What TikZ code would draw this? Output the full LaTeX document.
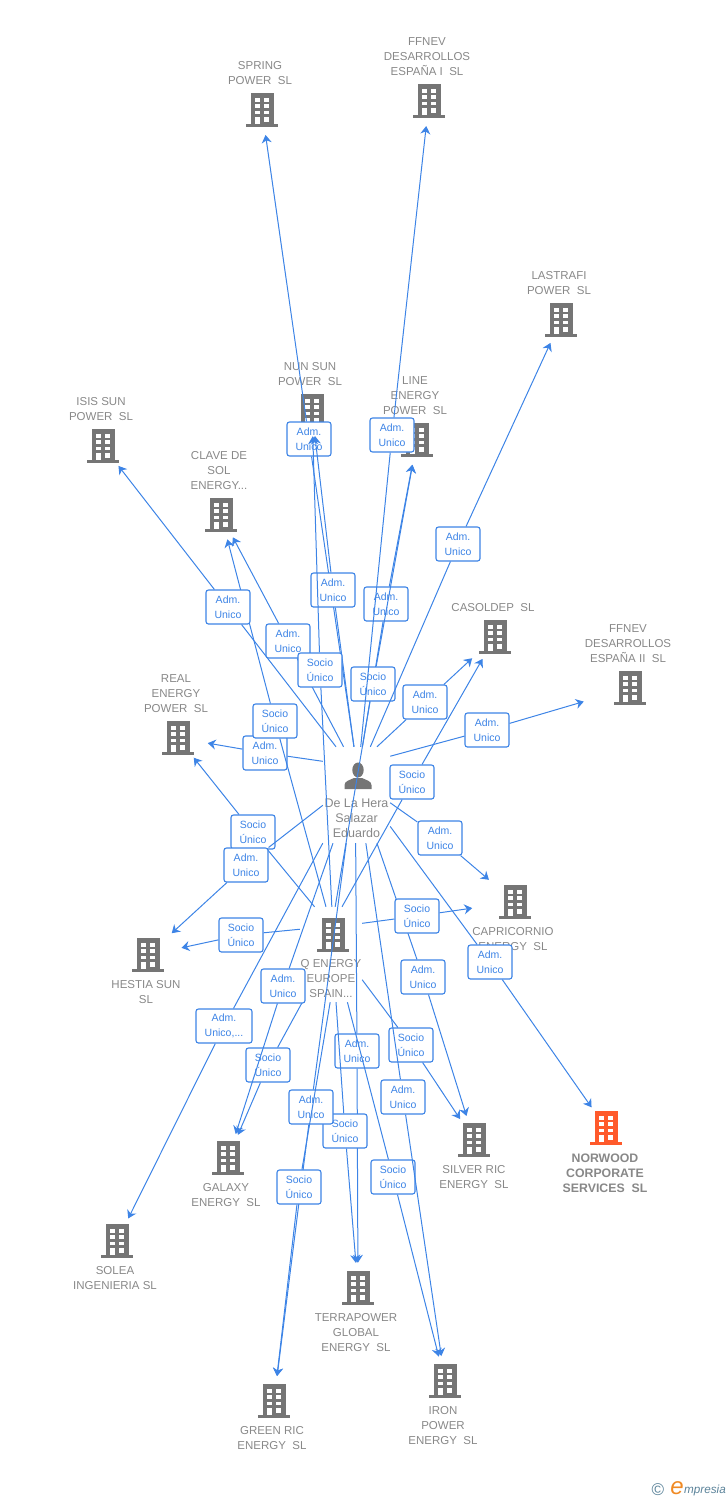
\documentclass[tikz,border=0pt]{standalone}
\usepackage{fontspec}
\setmainfont{Liberation Sans}
\usetikzlibrary{arrows.meta}

\definecolor{bldggray}{HTML}{757575}
\definecolor{bldgred}{HTML}{FF5A2B}
\definecolor{txtgray}{HTML}{888888}
\definecolor{relblue}{HTML}{3D84E6}
\definecolor{logoblue}{HTML}{5A8299}
\definecolor{logoorange}{HTML}{F08A24}

\newcommand{\bldgicon}[1]{
    \begin{scope}[shift={(path picture bounding box.center)}]
        \fill[#1] (-11.5,-16.7) rectangle (11.5,14.5);
        \fill[#1] (-16,14.3) rectangle (16,16.7);
        \fill[white] (-7.3,-12.3) rectangle (-2.3,-8.3);
        \fill[white] (2,-12.3) rectangle (6.7,-8.3);
        \fill[white] (-7.3,-6) rectangle (-2.3,-1.7);
        \fill[white] (2,-6) rectangle (6.7,-1.7);
        \fill[white] (-7.3,0.7) rectangle (-2.3,4.3);
        \fill[white] (2,0.7) rectangle (6.7,4.3);
        \fill[white] (-7.3,7.3) rectangle (-2.3,14.3);
        \fill[white] (2,7.3) rectangle (6.7,11.7);
    \end{scope}
}
\newcommand{\personicon}{
    \begin{scope}[shift={(path picture bounding box.center)}]
        \fill[bldggray] (0,-5) ellipse [x radius=5.7, y radius=7.5];
        \fill[bldggray] (-13.5,14) -- (-13.5,10) .. controls (-13.5,6) and (-8,5) .. (-4,3)
            -- (4,3) .. controls (8,5) and (13.5,6) .. (13.5,10) -- (13.5,14) -- cycle;
    \end{scope}
}

\begin{document}
\begin{tikzpicture}[x=1pt, y=-1pt]
        \tikzstyle{every label}=[text=txtgray, align=center, inner sep=0pt, xshift=-2pt,
            font=\fontsize{11.5}{15}\selectfont]
        \tikzstyle{bldg}[bldggray]=[circle, minimum size=50pt, inner sep=0pt,
            path picture={\bldgicon{#1}}]
        \tikzstyle{lab}=[draw=relblue, fill=white, text=relblue, rounded corners=2.5pt, line width=1.1pt,
            minimum width=44pt, minimum height=34pt, inner sep=0pt, align=center,
            font=\fontsize{10.5}{15}\selectfont]
        \tikzstyle{rel}=[draw=relblue, line width=1pt, -{Stealth[length=8pt, width=10pt]}]

        \useasboundingbox (0,0) rectangle (728,1500);

        \node   (spring)    [bldg, label=90:{SPRING\\POWER~~SL}] at (262,110) {};
        \node   (ffneva)    [bldg, label=90:{FFNEV\\DESARROLLOS\\ESPAÑA I~~SL}] at (429,101) {};
        \node   (lastrafi)  [bldg, label=90:{LASTRAFI\\POWER~~SL}] at (561,320) {};
        \node   (nunsun)    [bldg, label=90:{NUN SUN\\POWER~~SL}] at (312,411) {};
        \node   (line)      [bldg, label=90:{LINE\\ENERGY\\POWER~~SL}] at (417,440) {};
        \node   (isis)      [bldg, label=90:{ISIS SUN\\POWER~~SL}] at (103,446) {};
        \node   (clave)     [bldg, label=90:{CLAVE DE\\SOL\\ENERGY...}] at (221,515) {};
        \node   (casoldep)  [bldg, label=90:{CASOLDEP~~SL}] at (495,637) {};
        \node   (ffnevb)    [bldg, label=90:{FFNEV\\DESARROLLOS\\ESPAÑA II~~SL}] at (630,688) {};
        \node   (real)      [bldg, label=90:{REAL\\ENERGY\\POWER~~SL}] at (178,738) {};
        \node   (capri)     [bldg, label=270:{CAPRICORNIO\\ENERGY~~SL}] at (515,902) {};
        \node   (hestia)    [bldg, label=270:{HESTIA SUN\\SL}] at (148,955) {};
        \node   (silver)    [bldg, label={[xshift=2pt]270:{SILVER RIC\\ENERGY~~SL}}] at (474,1140) {};
        \node   (norwood)   [bldg=bldgred, label={[xshift=1pt, font=\fontsize{12.3}{15}\selectfont\bfseries]270:{NORWOOD\\CORPORATE\\SERVICES~~SL}}] at (606,1128) {};
        \node   (galaxy)    [bldg, label=270:{GALAXY\\ENERGY~~SL}] at (228,1158) {};
        \node   (solea)     [bldg, label=270:{SOLEA\\INGENIERIA SL}] at (117,1241) {};
        \node   (terra)     [bldg, label=270:{TERRAPOWER\\GLOBAL\\ENERGY~~SL}] at (358,1288) {};
        \node   (green)     [bldg, label=270:{GREEN RIC\\ENERGY~~SL}] at (274,1401) {};
        \node   (iron)      [bldg, label=270:{IRON\\POWER\\ENERGY~~SL}] at (445,1381) {};

        \node   (heraicon)  [circle, minimum size=40pt, inner sep=0pt, path picture={\personicon}] at (358,775) {};
        \node   (hera)      [minimum width=67pt, minimum height=96pt, inner sep=0pt,
            label={[anchor=south, xshift=2pt, yshift=5pt, font=\fontsize{12.5}{15}\selectfont]south:{De La Hera\\Salazar\\Eduardo}}] at (356.5,795) {};
        \node   (qicon)     [bldg] at (333,935) {};
        \node   (qenergy)   [minimum width=62pt, minimum height=95pt, inner sep=0pt,
            label={[anchor=south, xshift=2pt, yshift=4pt]south:{Q ENERGY\\EUROPE\\SPAIN...}}] at (331,954.5) {};

        \node   (aterra)    [lab] at (357,1051) {Adm.\\Unico};
        \draw[rel] (hera.269) -- (aterra) -- (terra);
        \node   (sterra)    [lab] at (345,1131) {Socio\\Único};
        \draw[rel] (qenergy.276) -- (sterra) -- (terra);
        \node   (agreen)    [lab] at (311,1107) {Adm.\\Unico};
        \draw[rel] (hera.258) -- (agreen) -- (green);
        \node   (sgreen)    [lab] at (299,1187) {Socio\\Único};
        \draw[rel] (qenergy.269) -- (sgreen) -- (green);
        \node   (siron)     [lab] at (393,1177) {Socio\\Único};
        \draw[rel] (qenergy.289) -- (siron) -- (iron);
        \node   (ssilver)   [lab] at (411,1045) {Socio\\Único};
        \draw[rel] (qenergy.321) -- (ssilver) -- (silver);
        \node   (airon)     [lab] at (403,1097) {Adm.\\Unico};
        \draw[rel] (hera.281) -- (airon) -- (iron);
        \node   (asilver)   [lab] at (423,977) {Adm.\\Unico};
        \draw[rel] (hera.293) -- (asilver) -- (silver);
        \node   (scapri)    [lab] at (417,916) {Socio\\Único};
        \draw[rel, shorten >=18pt] (qenergy.45) -- (scapri) -- (capri);
        \node   (acapri)    [lab] at (440,838) {Adm.\\Unico};
        \draw[rel, shorten >=9pt] (hera.347) -- (acapri) -- (capri);
        \node   (anorwood)  [lab] at (490,962) {Adm.\\Unico};
        \draw[rel] (hera.317) -- (anorwood) -- (norwood);
        \node   (sgalaxy)   [lab] at (268,1065) {Socio\\Único};
        \draw[rel] (qenergy.239) -- (sgalaxy) -- (galaxy);
        \node   (agalaxy)   [lab] at (283,986) {Adm.\\Unico};
        \draw[rel] (hera.244) -- (agalaxy) -- (galaxy);
        \node   (asolea)    [lab, minimum width=56pt] at (224,1026) {Adm.\\Unico,...};
        \draw[rel] (hera.235) -- (asolea) -- (solea);
        \node   (sreal)     [lab] at (253,832) {Socio\\Único};
        \draw[rel] (qenergy.109) -- (sreal) -- (real);
        \node   (ahestia)   [lab] at (246,865) {Adm.\\Unico};
        \draw[rel, shorten >=7pt] (hera.197) -- (ahestia) -- (hestia);
        \node   (shestia)   [lab] at (241,935) {Socio\\Único};
        \draw[rel, shorten >=9pt] (qenergy.141) -- (shestia) -- (hestia);
        \node   (areal)     [lab] at (265,753) {Adm.\\Unico};
        \draw[rel, shorten >=5pt] (hera.135) -- (areal) -- (real);
        \node   (sclave)    [lab] at (275,721) {Socio\\Único};
        \draw[rel] (qenergy.96) -- (sclave) -- (clave);
        \node   (aisis)     [lab] at (228,607) {Adm.\\Unico};
        \draw[rel] (hera.113) -- (aisis) -- (isis);
        \node   (aclave)    [lab] at (288,641) {Adm.\\Unico};
        \draw[rel] (hera.105) -- (aclave) -- (clave);
        \node   (aspring)   [lab] at (309,439) {Adm.\\Unico};
        \draw[rel] (hera.93) -- (aspring) -- (spring);
        \node   (anunsun)   [lab] at (333,590) {Adm.\\Unico};
        \draw[rel] (hera.93) -- (anunsun) -- (nunsun);
        \node   (snunsun)   [lab] at (320,670) {Socio\\Único};
        \draw[rel] (qenergy.89) -- (snunsun) -- (nunsun);
        \node   (aline)     [lab] at (386,604) {Adm.\\Unico};
        \draw[rel] (hera.83) -- (aline) -- (line);
        \node   (sline)     [lab] at (373,684) {Socio\\Único};
        \draw[rel] (qenergy.85) -- (sline) -- (line);
        \node   (affneva)   [lab] at (392,435) {Adm.\\Unico};
        \draw[rel] (hera.85) -- (affneva) -- (ffneva);
        \node   (alastrafi) [lab] at (458,544) {Adm.\\Unico};
        \draw[rel] (hera.74) -- (alastrafi) -- (lastrafi);
        \node   (acasoldep) [lab] at (425,702) {Adm.\\Unico};
        \draw[rel, shorten >=6pt] (hera.67) -- (acasoldep) -- (casoldep);
        \node   (scasoldep) [lab] at (412,782) {Socio\\Único};
        \draw[rel] (qenergy.77) -- (scasoldep) -- (casoldep);
        \node   (affnevb)   [lab] at (487,730) {Adm.\\Unico};
        \draw[rel, shorten >=23pt] (hera.49) -- (affnevb) -- (ffnevb);

        \node   (copyr)     [text=logoblue, font=\fontsize{17}{17}\selectfont] at (658,1490) {©};
        \node   (logoe)     [text=logoorange, font=\fontsize{24}{24}\selectfont\itshape, inner sep=0pt] at (677,1488) {e};
        \node   (logotxt)   [text=logoblue, font=\fontsize{11.7}{13}\selectfont\itshape, anchor=west, inner sep=0pt] at (684,1490) {mpresia};
    \end{tikzpicture}
\end{document}
